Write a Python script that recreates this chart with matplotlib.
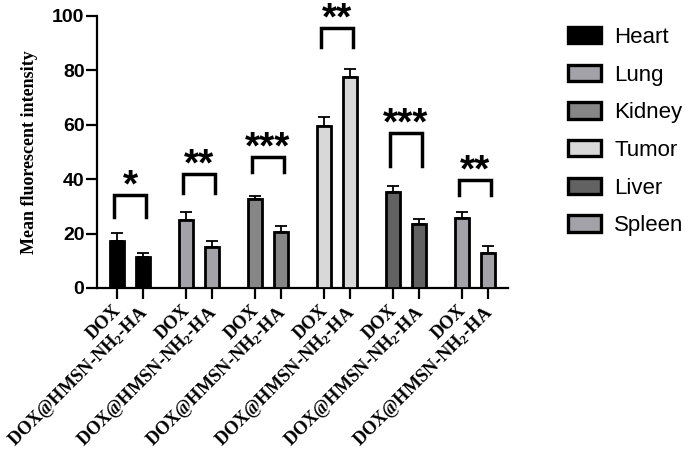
import numpy as np
import matplotlib
matplotlib.use("Agg")
import matplotlib.pyplot as plt
import matplotlib.transforms as mtransforms
from matplotlib.patches import Patch

plt.rcParams['mathtext.fontset'] = 'custom'
plt.rcParams['mathtext.rm'] = 'Liberation Serif:bold'
plt.rcParams['mathtext.it'] = 'Liberation Serif:bold'
plt.rcParams['mathtext.bf'] = 'Liberation Serif:bold'

organs = ["Heart", "Lung", "Kidney", "Tumor", "Liver", "Spleen"]
groups = ["DOX", "DOX@HMSN-NH$_2$-HA"]
dox_mean = [17.3, 25.0, 32.7, 59.6, 35.3, 25.7]
dox_err = [2.9, 2.9, 1.1, 3.3, 2.2, 2.2]
ha_mean = [11.4, 15.1, 20.6, 77.6, 23.5, 12.9]
ha_err = [1.5, 2.2, 2.2, 2.9, 1.9, 2.5]
colors = ["#000000", "#a2a2a8", "#868686", "#d8d8d8", "#626262", "#a2a2a8"]
stars = ["*", "**", "***", "**", "***", "**"]
bracket_top = [34.2, 42.0, 48.0, 95.6, 57.0, 39.7]
bracket_leg = [26.0, 35.0, 42.6, 88.6, 45.0, 34.2]

gap = 69 / 26
fig = plt.figure(figsize=(6.85, 4.51), dpi=100)
ax = fig.add_axes([97 / 685, 1 - 288 / 451, 411 / 685, 272 / 451])

ticks = []
labels = []
for i, organ in enumerate(organs):
    x0 = i * gap
    x1 = x0 + 1
    ax.bar([x0, x1], [dox_mean[i], ha_mean[i]], width=0.56, color=colors[i],
           edgecolor="black", linewidth=2.0, zorder=3)
    ax.errorbar([x0, x1], [dox_mean[i], ha_mean[i]],
                yerr=[[0, 0], [dox_err[i], ha_err[i]]], fmt="none",
                ecolor="black", elinewidth=1.3, capsize=4, capthick=1.3, zorder=2)
    bx = [x0 - 0.12, x0 - 0.12, x1 + 0.12, x1 + 0.12]
    by = [bracket_leg[i], bracket_top[i], bracket_top[i], bracket_leg[i]]
    ax.plot(bx, by, color="black", lw=2.5, clip_on=False, solid_joinstyle="miter")
    ax.text((x0 + x1) / 2, bracket_top[i] - 0.5, stars[i], ha="center", va="baseline",
            fontsize=28, fontweight="bold", family="Liberation Sans", clip_on=False)
    ticks += [x0, x1]
    labels += groups

ax.set_xlim(-0.77, 15.04)
ax.set_ylim(0, 100)
ax.set_yticks([0, 20, 40, 60, 80, 100])
ax.set_xticks(ticks)
ax.set_xticklabels(labels, rotation=45, ha="right", rotation_mode="anchor",
                   fontsize=13.2, fontweight="bold", family="Liberation Serif")
for lab in ax.get_yticklabels():
    lab.set_fontsize(14)
    lab.set_fontweight("bold")
    lab.set_family("Liberation Sans")
ax.tick_params(axis="both", width=1.6, length=8, direction="out")
ax.tick_params(axis="y", pad=1)
ax.tick_params(axis="x", pad=2)
# nudge the slanted labels a few pixels to the left, as in the original
shift = mtransforms.ScaledTranslation(-5 / 100, 0, fig.dpi_scale_trans)
for lab in ax.get_xticklabels():
    lab.set_transform(lab.get_transform() + shift)
for side in ["top", "right"]:
    ax.spines[side].set_visible(False)
for side in ["left", "bottom"]:
    ax.spines[side].set_linewidth(1.6)
ax.set_ylabel("Mean fluorescent intensity", fontsize=13, fontweight="bold",
              family="Liberation Serif", labelpad=10)

handles = [Patch(facecolor=c, edgecolor="black", linewidth=2.4) for c in colors]
ax.legend(handles, organs, loc="upper left", bbox_to_anchor=(548 / 685, 1 - 7 / 451),
          bbox_transform=fig.transFigure, frameon=False,
          prop={"family": "Liberation Sans", "size": 16},
          handlelength=1.5, handleheight=0.75, handletextpad=0.58, labelspacing=0.75)

fig.savefig("out.png", dpi=100)
